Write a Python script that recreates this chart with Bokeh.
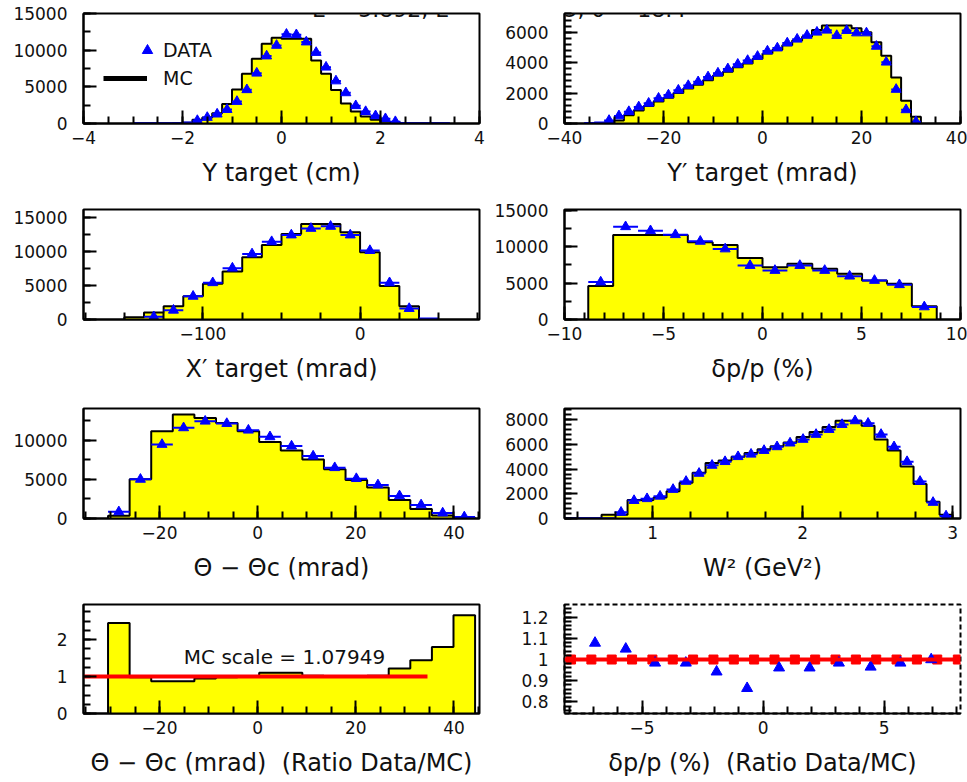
from bokeh.plotting import figure
from bokeh.models import (Range1d, SingleIntervalTicker, CustomJSTickFormatter, Label,
                          Legend, LegendItem, Span)
from bokeh.layouts import gridplot
from bokeh.core.properties import value
from bokeh.embed import file_html
from bokeh.resources import INLINE

FONT = "DejaVu Sans"
YELLOW = "#ffff00"
BLUE = "#0000ff"
RED = "#ff0000"
INK = "#111111"
NB = "\u00a0"

# ------------------------------------------------------------------ data
title_left = "E = 5.892,  E\u2032 ="
title_right = "4.0045,  \u03b8 = 18.4"

# Y target (cm): bins of 0.2 starting at -3.0
ytg_lo, ytg_width = -3.0, 0.2
ytg_mc = [0, 0, 0, 0, 30, 100, 500, 820, 1400, 2650, 4620, 6770, 8830, 10880, 11700, 11570,
          11570, 11570, 8600, 6770, 4570, 2740, 1650, 960, 500, 250, 150, 50, 0, 0, 0, 0]
ytg_data = [30, 30, 30, 30, 30, 150, 400, 820, 1280, 1900, 3000, 4600, 6860, 9200, 10650, 12160,
            12100, 11110, 9680, 7680, 5800, 4180, 2420, 1620, 1050, 650, 250, 60, 30, 30, 30, 30]

# Y' target (mrad): bins of 2 starting at -36
yptg_lo, yptg_width = -36.0, 2.0
yptg_mc = [0, 20, 60, 200, 550, 850, 1150, 1450, 1700, 2000, 2300, 2550, 2850, 3150, 3400, 3700, 3950,
           4250, 4600, 4850, 5150, 5450, 5700, 6150, 6440, 6440, 6440, 6260, 6000, 5340, 4460, 3030,
           1490, 440]
yptg_data = [30, 60, 200, 500, 780, 1090, 1330, 1660, 1870, 2190, 2490, 2740, 3060, 3310, 3590, 3890,
             4140, 4410, 4760, 4960, 5290, 5540, 5790, 6000, 6130, 5780, 6110, 5950, 5950, 5070, 4030,
             2240, 900, 120]

# X' target (mrad): bins of 12.5 starting at -150
xptg_lo, xptg_width = -150.0, 12.5
xptg_mc = [340, 1020, 1950, 3410, 5260, 7060, 9160, 10960, 12560, 14030, 14030, 12810, 9890, 4920,
           1950, 0]
xptg_data = [0, 400, 1360, 3410, 5400, 7550, 9640, 11440, 12420, 13390, 13690, 12420, 10130, 5400,
             1610, 150]

# delta p / p (%): 14 bins between -8.8 and 8.8
dp_lo, dp_hi, dp_nbins = -8.8, 8.8, 14
dp_mc = [4590, 11590, 11590, 11590, 10590, 10230, 8450, 7180, 7640, 6950, 6270, 5360, 4910, 1820]
dp_data = [5140, 12730, 12180, 11640, 10730, 9680, 7410, 6730, 7410, 6730, 5950, 5360, 4770, 1730]

# Theta - Theta_c (mrad): bins of 4.4 starting at -30.5
th_lo, th_width = -30.5, 4.4
th_mc = [350, 5020, 11190, 13320, 12890, 12250, 11190, 9790, 8720, 7570, 6300, 4940, 3960, 2380,
         1210, 400, 80]
th_data = [850, 5020, 9490, 11620, 12470, 12170, 11320, 10470, 9280, 8000, 6510, 5110, 4300, 2900,
           1740, 700, 200]

# W^2 (GeV^2): 30 bins between 0.4 and 3.0
w2_lo, w2_hi, w2_nbins = 0.4, 3.0, 30
w2_mc = [0, 0, 0, 300, 300, 1500, 1500, 1700, 2200, 2900, 3700, 4500, 4700, 5000, 5300, 5600, 5850,
         6150, 6600, 7000, 7400, 7900, 7900, 7500, 6400, 5500, 4200, 2800, 1350, 300]
w2_data = [30, 30, 30, 30, 500, 1450, 1600, 1800, 2350, 3000, 3650, 4300, 4600, 5000, 5200, 5500,
           5800, 6100, 6400, 6800, 7200, 7600, 7900, 7700, 6800, 5800, 4600, 3000, 1300, 200]

# Ratio Data/MC versus Theta - Theta_c (same bins as th_*)
th_ratio = [2.45, 0.98, 0.87, 0.87, 0.95, 0.98, 1.0, 1.1, 1.1, 1.02, 1.0, 1.0, 1.02, 1.22, 1.44,
            1.8, 2.66]
th_fit_x = [-36.0, 34.6]
th_fit_y = [1.0, 1.0]
mc_scale_text = "MC scale = 1.07949"

# Ratio Data/MC versus delta p / p
dp_ratio_x = [-6.94, -5.67, -4.46, -3.19, -1.92, -0.66, 0.66, 1.92, 3.13, 4.44, 5.67, 6.94]
dp_ratio_y = [1.078, 1.05, 0.984, 0.984, 0.942, 0.864, 0.961, 0.961, 0.984, 0.965, 0.984, 1.0]
dp_fit_x = [-7.93, -7.09, -6.25, -5.41, -4.57, -3.73, -2.89, -2.05, -1.21, -0.37, 0.47, 1.31,
            2.15, 2.99, 3.83, 4.67, 5.51, 6.35, 7.19, 8.04]
dp_fit_y = [1.0] * len(dp_fit_x)

# ------------------------------------------------------------------ layout helpers
COLS = [dict(width=489, left=83, right=10), dict(width=478, left=75, right=7)]
ROWS = [dict(height=196, top=13, bottom=73), dict(height=199, top=13, bottom=76),
        dict(height=196, top=13, bottom=73), dict(height=191, top=13, bottom=69)]

FMT = CustomJSTickFormatter(code="const v = Math.round(tick*1000)/1000; return v.toString().replace('-', '\u2212');")


def make_fig(col, row, xr, yr, xint, xminor, yint, yminor, xtitle):
    c, r = COLS[col], ROWS[row]
    p = figure(width=c["width"], height=r["height"], x_range=Range1d(*xr), y_range=Range1d(*yr),
               output_backend="svg", toolbar_location=None,
               min_border_left=c["left"], min_border_right=c["right"],
               min_border_top=r["top"], min_border_bottom=r["bottom"])
    p.xgrid.visible = False
    p.ygrid.visible = False
    p.background_fill_color = "white"
    p.border_fill_color = "white"
    p.outline_line_color = "black"
    p.outline_line_width = 2
    p.xaxis.ticker = SingleIntervalTicker(interval=xint, num_minor_ticks=xminor)
    p.yaxis.ticker = SingleIntervalTicker(interval=yint, num_minor_ticks=yminor)
    for ax in (p.xaxis[0], p.yaxis[0]):
        ax.formatter = FMT
        ax.axis_line_color = "black"
        ax.axis_line_width = 2
        ax.major_tick_line_color = "black"
        ax.minor_tick_line_color = "black"
        ax.major_tick_line_width = 2
        ax.minor_tick_line_width = 2
        ax.major_tick_out = 0
        ax.minor_tick_out = 0
        ax.major_tick_in = 13
        ax.minor_tick_in = 7
        ax.major_label_text_font = FONT
        ax.major_label_text_font_size = "17px"
        ax.major_label_text_color = INK
    p.xaxis.major_label_standoff = 7
    p.yaxis.major_label_standoff = 16
    xa = p.xaxis[0]
    xa.axis_label = xtitle
    xa.axis_label_text_font = FONT
    xa.axis_label_text_font_size = "24px"
    xa.axis_label_text_font_style = "normal"
    xa.axis_label_text_color = INK
    xa.axis_label_standoff = 12
    return p


def edges_from(lo, width, n):
    return [lo + width * i for i in range(n)], [lo + width * (i + 1) for i in range(n)]


def draw_hist(p, lo, width, counts):
    n = len(counts)
    left, right = edges_from(lo, width, n)
    xs, ys = [left[0]], [0]
    for l, rr, cnt in zip(left, right, counts):
        xs += [l, rr]
        ys += [cnt, cnt]
    xs.append(right[-1])
    ys.append(0)
    p.patch(xs, ys, fill_color=YELLOW, line_color=None)
    p.line(xs, ys, line_color="black", line_width=2)


def draw_data(p, lo, width, counts, min_marker):
    n = len(counts)
    left, right = edges_from(lo, width, n)
    sl = [l for l, c in zip(left, counts) if c > 0]
    sr = [rr for rr, c in zip(right, counts) if c > 0]
    sc = [c for c in counts if c > 0]
    p.segment(x0=sl, x1=sr, y0=sc, y1=sc, line_color=BLUE, line_width=2)
    mx = [(l + rr) / 2 for l, rr, c in zip(left, right, counts) if c >= min_marker]
    my = [c for c in counts if c >= min_marker]
    return p.scatter(mx, my, marker="triangle", size=10, fill_color=BLUE, line_color=BLUE)


# ------------------------------------------------------------------ panels
p1 = make_fig(0, 0, (-4, 4), (0, 15000), 2, 4, 5000, 2, "Y target (cm)")
draw_hist(p1, ytg_lo, ytg_width, ytg_mc)
tri1 = draw_data(p1, ytg_lo, ytg_width, ytg_data, 250)
mc_leg = p1.line(x=[ytg_lo, ytg_lo], y=[0, 0], line_color="black", line_width=5)
leg_a = Legend(items=[LegendItem(label=value("DATA"), renderers=[tri1])], location=(51, 60),
               glyph_width=26, glyph_height=26, label_height=26, label_standoff=3, padding=0,
               margin=0, spacing=0, border_line_color=None, background_fill_alpha=0,
               label_text_font=FONT, label_text_font_size="19px", label_text_color=INK)
leg_b = Legend(items=[LegendItem(label=value("MC"), renderers=[mc_leg])], location=(20, 32),
               glyph_width=44, glyph_height=26, label_height=26, label_standoff=16, padding=0,
               margin=0, spacing=0, border_line_color=None, background_fill_alpha=0,
               label_text_font=FONT, label_text_font_size="19px", label_text_color=INK)
p1.add_layout(leg_a)
p1.add_layout(leg_b)

p2 = make_fig(1, 0, (-40, 40), (0, 7230), 20, 4, 2000, 5, "Y\u2032 target (mrad)")
draw_hist(p2, yptg_lo, yptg_width, yptg_mc)
draw_data(p2, yptg_lo, yptg_width, yptg_data, 100)

# run title at the very top: only its lower half lies inside the page
p1.add_layout(Label(x=486 - 83, y=114, x_units="screen", y_units="screen", text=title_left,
                    text_align="right", text_baseline="alphabetic", text_font=FONT,
                    text_font_size="22px", text_color=INK))
p2.add_layout(Label(x=500 - 564, y=114, x_units="screen", y_units="screen", text=title_right,
                    text_align="left", text_baseline="alphabetic", text_font=FONT,
                    text_font_size="22px", text_color=INK))

p3 = make_fig(0, 1, (-176, 76), (0, 16170), 100, 4, 5000, 2, "X\u2032 target (mrad)")
draw_hist(p3, xptg_lo, xptg_width, xptg_mc)
draw_data(p3, xptg_lo, xptg_width, xptg_data, 250)

p4 = make_fig(1, 1, (-10, 10), (0, 15100), 5, 5, 5000, 2, "\u03b4p/p (%)")
dp_width = (dp_hi - dp_lo) / dp_nbins
draw_hist(p4, dp_lo, dp_width, dp_mc)
draw_data(p4, dp_lo, dp_width, dp_data, 250)

p5 = make_fig(0, 2, (-35.5, 45.2), (0, 14100), 20, 4, 5000, 2,
              "\u0398 \u2212 \u0398\u1d04 (mrad)")
draw_hist(p5, th_lo, th_width, th_mc)
draw_data(p5, th_lo, th_width, th_data, 150)

p6 = make_fig(1, 2, (0.413, 3.053), (0, 8900), 1, 4, 2000, 5, "W\u00b2 (GeV\u00b2)")
w2_width = (w2_hi - w2_lo) / w2_nbins
draw_hist(p6, w2_lo, w2_width, w2_mc)
draw_data(p6, w2_lo, w2_width, w2_data, 150)

p7 = make_fig(0, 3, (-35.5, 45.2), (0, 2.95), 20, 4, 1, 4,
              "\u0398 \u2212 \u0398\u1d04 (mrad) " + NB + "(Ratio Data/MC)")
draw_hist(p7, th_lo, th_width, th_ratio)
p7.line(th_fit_x, th_fit_y, line_color=RED, line_width=4)
p7.add_layout(Label(x=201, y=57, x_units="screen", y_units="screen", text=mc_scale_text,
                    text_align="center", text_baseline="middle", text_font=FONT,
                    text_font_size="20px", text_color=INK))

p8 = make_fig(1, 3, (-8.2, 8.15), (0.745, 1.26), 5, 5, 0.1, 5,
              "\u03b4p/p (%) " + NB + "(Ratio Data/MC)")
p8.outline_line_dash = "5 3"
p8.add_layout(Span(location=1.0, dimension="width", line_color=RED, line_width=4))
p8.scatter(dp_fit_x, dp_fit_y, marker="square", size=9, fill_color=RED, line_color=RED)
p8.scatter(dp_ratio_x, dp_ratio_y, marker="triangle", size=11, fill_color=BLUE, line_color=BLUE)

grid = gridplot([[p1, p2], [p3, p4], [p5, p6], [p7, p8]], toolbar_location=None)

open("out.html", "w").write(file_html(grid, INLINE))
